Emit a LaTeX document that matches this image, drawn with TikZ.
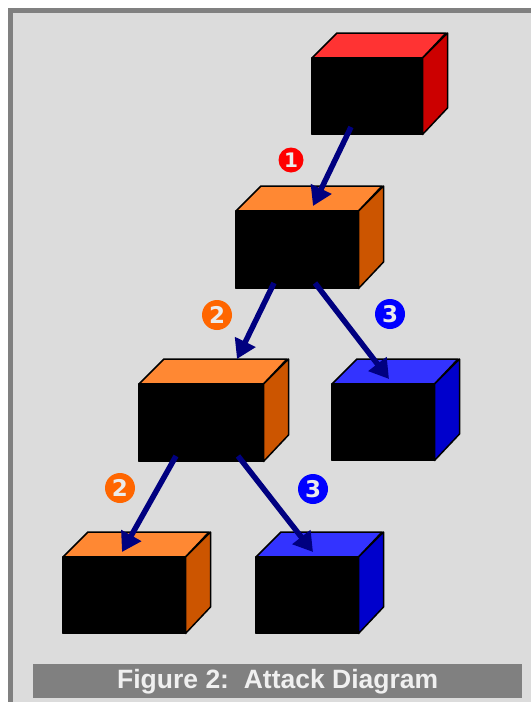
\documentclass[tikz,border=0pt]{standalone}
\usepackage{fontspec}
\setmainfont{Liberation Sans}
\newfontfamily\badgefont{DejaVu Sans}
\usetikzlibrary{arrows.meta,calc}
\definecolor{framegray}{HTML}{808080}
\definecolor{innergray}{HTML}{DCDCDC}
\definecolor{redtop}{HTML}{FF3333}
\definecolor{redside}{HTML}{CC0000}
\definecolor{orgtop}{HTML}{FF8833}
\definecolor{orgside}{HTML}{CC5500}
\definecolor{bluetop}{HTML}{3333FF}
\definecolor{blueside}{HTML}{0000CC}
\definecolor{arrownavy}{HTML}{000080}
\definecolor{numred}{HTML}{FF0000}
\definecolor{numorange}{HTML}{FF6600}
\definecolor{numblue}{HTML}{0000FF}
\tikzset{
  front/.style={draw=black, fill=black, line width=1.5pt, inner sep=0pt, anchor=north west},
  face/.style={draw=black, line width=1.5pt, line join=round},
  attack/.style={draw=arrownavy, line width=5.5pt, -{Triangle[length=19pt,width=22pt]}},
  numbadge/.style={circle, inner sep=0pt, minimum size=#1, text=white!92!black},
  caption/.style={fill=framegray, text=white!94!black, inner sep=0pt, minimum width=489pt, minimum height=34pt, anchor=north west, font=\bfseries\fontsize{26.5}{30}\selectfont}
}
% \boxcube{name}{x}{y}{w}{h}{top}{side}
\newcommand\boxcube[7]{%
  \node[front, minimum width=#4pt, minimum height=#5pt] (#1) at (#2,#3) {};
  \draw[face, fill=#6] (#1.north west) -- ++(25,-25) -- ++(#4,0) -- ($(#1.north east)$) -- cycle;
  \draw[face, fill=#7] (#1.north east) -- ++(25,-25) -- ++(0,#5) -- ($(#1.south east)$) -- cycle;
  \draw[face] (#1.north west) rectangle (#1.south east);
}
\begin{document}
\begin{tikzpicture}[x=1pt,y=-1pt]
  \useasboundingbox (0,0) rectangle (531,702);
  \fill[white] (0,0) rectangle (531,702);
  \fill[framegray] (8,8) rectangle (531,702);
  \fill[innergray] (13,13) rectangle (531,702);

  \boxcube{red}{312}{58}{109}{75}{redtop}{redside}
  \boxcube{mid}{236}{211}{121}{76}{orgtop}{orgside}
  \boxcube{left}{139}{384}{123}{76}{orgtop}{orgside}
  \boxcube{right}{332}{384}{101}{75}{bluetop}{blueside}
  \boxcube{bl}{63}{557}{121}{75}{orgtop}{orgside}
  \boxcube{br}{256}{557}{101}{75}{bluetop}{blueside}

  \coordinate (s1) at (351,127);
  \coordinate (e1) at (313,206);
  \coordinate (s2) at (274,283);
  \coordinate (e2) at (237,359);
  \coordinate (s3) at (315,283);
  \coordinate (e3) at (389,379);
  \coordinate (s4) at (176,456);
  \coordinate (e4) at (122,552);
  \coordinate (s5) at (238,456);
  \coordinate (e5) at (313,552);

  \draw[attack] (s1) -- (e1);
  \draw[attack] (s2) -- (e2);
  \draw[attack] (s3) -- (e3);
  \draw[attack] (s4) -- (e4);
  \draw[attack] (s5) -- (e5);

  \node[numbadge=25pt, fill=numred, font=\badgefont\bfseries\fontsize{20}{20}\selectfont] (n1) at (291,160) {1};
  \node[numbadge=30pt, fill=numorange, font=\badgefont\bfseries\fontsize{23}{23}\selectfont] (n2a) at (217,315) {2};
  \node[numbadge=30pt, fill=numblue, font=\badgefont\bfseries\fontsize{23}{23}\selectfont] (n3a) at (390,314) {3};
  \node[numbadge=30pt, fill=numorange, font=\badgefont\bfseries\fontsize{23}{23}\selectfont] (n2b) at (120,488) {2};
  \node[numbadge=30pt, fill=numblue, font=\badgefont\bfseries\fontsize{23}{23}\selectfont] (n3b) at (313,489) {3};

  \node[caption] (cap) at (33,664) {Figure 2:\ \ Attack Diagram};
\end{tikzpicture}
\end{document}
